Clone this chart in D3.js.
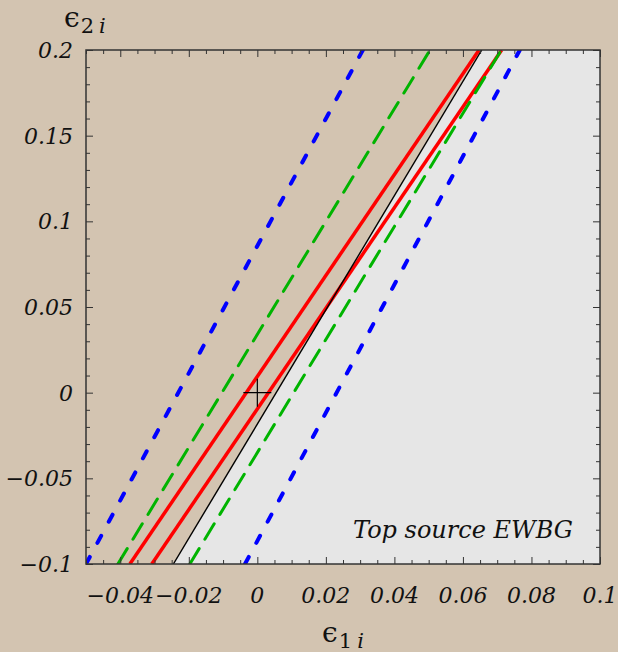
<!DOCTYPE html>
<html>
<head>
<meta charset="utf-8">
<script src="https://cdn.jsdelivr.net/npm/d3@7"></script>
<style>
  body { margin: 0; background: #d3c4b1; }
  svg { display: block; }
  .lbl { font-family: "DejaVu Serif", serif; font-style: italic; fill: #111; }
</style>
</head>
<body>
<div id="chart"></div>
<script>
// line endpoints: ε1 at ε2 = -0.1 (bottom) and ε2 = 0.2 (top)
const lineNames = ['blueL', 'greenL', 'redL', 'redR', 'black', 'greenR', 'blueR'];
const bottomE1 = [-0.0500, -0.0407, -0.0372, -0.0308, -0.0245, -0.0197, -0.0036];
const topE1 = [0.0308, 0.0504, 0.0647, 0.0713, 0.0655, 0.0712, 0.0766];
const e2Ends = [-0.1, 0.2];

const xTicks = [-0.04, -0.02, 0, 0.02, 0.04, 0.06, 0.08, 0.1];
const xTickLabels = ['\u22120.04', '\u22120.02', '0', '0.02', '0.04', '0.06', '0.08', '0.1'];
const yTicks = [-0.1, -0.05, 0, 0.05, 0.1, 0.15, 0.2];
const yTickLabels = ['\u22120.1', '\u22120.05', '0', '0.05', '0.1', '0.15', '0.2'];

const styles = {
  blueL: { stroke: '#0000ff', width: 4, dash: '8,16' },
  blueR: { stroke: '#0000ff', width: 4, dash: '8,16' },
  greenL: { stroke: '#00b400', width: 3, dash: '18,11' },
  greenR: { stroke: '#00b400', width: 3, dash: '18,11' },
  redL: { stroke: '#ff0000', width: 3.5, dash: null },
  redR: { stroke: '#ff0000', width: 3.5, dash: null },
  black: { stroke: '#000', width: 1.4, dash: null }
};

const width = 618, height = 652;
const plot = { left: 86, right: 600, top: 50, bottom: 564 };

const svg = d3.select('#chart').append('svg')
  .attr('width', width).attr('height', height);

const xScale = d3.scaleLinear().domain([-0.05, 0.1]).range([plot.left, plot.right]);
const yScale = d3.scaleLinear().domain([-0.1, 0.2]).range([plot.bottom, plot.top]);

svg.append('clipPath').attr('id', 'clip')
  .append('rect')
  .attr('x', plot.left).attr('y', plot.top)
  .attr('width', plot.right - plot.left).attr('height', plot.bottom - plot.top);

// grey region to the right of the black line
const bi = lineNames.indexOf('black');
const region = [[bottomE1[bi], -0.1], [topE1[bi], 0.2], [0.1, 0.2], [0.1, -0.1]];
svg.append('path')
  .attr('d', d3.line().x(d => xScale(d[0])).y(d => yScale(d[1]))(region) + 'Z')
  .attr('fill', '#e6e6e6');

const lines = lineNames.map((name, i) => ({
  name,
  pts: [[bottomE1[i], e2Ends[0]], [topE1[i], e2Ends[1]]]
}));

const g = svg.append('g').attr('clip-path', 'url(#clip)');
g.selectAll('path')
  .data(lines)
  .join('path')
  .attr('d', d => d3.line().x(p => xScale(p[0])).y(p => yScale(p[1]))(d.pts))
  .attr('fill', 'none')
  .attr('stroke', d => styles[d.name].stroke)
  .attr('stroke-width', d => styles[d.name].width)
  .attr('stroke-dasharray', d => styles[d.name].dash)
  .attr('stroke-linecap', d => styles[d.name].dash ? 'round' : 'butt');

// cross at the origin
const cx = xScale(0), cy = yScale(0);
svg.append('path')
  .attr('d', `M${cx - 14},${cy}H${cx + 14}M${cx},${cy - 14}V${cy + 14}`)
  .attr('stroke', '#000').attr('stroke-width', 1.2);

// frame with inward ticks on all sides
const xMinor = d3.range(-0.05, 0.1001, 0.005).filter(v => !xTicks.some(t => Math.abs(t - v) < 1e-9));
const yMinor = d3.range(-0.1, 0.2001, 0.01).filter(v => !yTicks.some(t => Math.abs(t - v) < 1e-9));

function addAxis(axisFn, scale, ticks, size, transform) {
  svg.append('g')
    .attr('transform', transform)
    .call(axisFn(scale).tickValues(ticks).tickSize(size).tickFormat(''))
    .call(a => a.select('.domain').remove())
    .selectAll('line').attr('stroke', '#333').attr('stroke-width', 1);
}
addAxis(d3.axisBottom, xScale, xTicks, -7, `translate(0,${plot.bottom})`);
addAxis(d3.axisBottom, xScale, xMinor, -4, `translate(0,${plot.bottom})`);
addAxis(d3.axisTop, xScale, xTicks, -7, `translate(0,${plot.top})`);
addAxis(d3.axisTop, xScale, xMinor, -4, `translate(0,${plot.top})`);
addAxis(d3.axisLeft, yScale, yTicks, -7, `translate(${plot.left},0)`);
addAxis(d3.axisLeft, yScale, yMinor, -4, `translate(${plot.left},0)`);
addAxis(d3.axisRight, yScale, yTicks, -7, `translate(${plot.right},0)`);
addAxis(d3.axisRight, yScale, yMinor, -4, `translate(${plot.right},0)`);

svg.append('rect')
  .attr('x', plot.left).attr('y', plot.top)
  .attr('width', plot.right - plot.left).attr('height', plot.bottom - plot.top)
  .attr('fill', 'none').attr('stroke', '#333').attr('stroke-width', 1.5);

// tick labels
svg.append('g').selectAll('text')
  .data(xTicks)
  .join('text')
  .attr('class', 'lbl')
  .attr('x', d => xScale(d))
  .attr('y', 603)
  .attr('text-anchor', 'middle')
  .attr('font-size', 22)
  .text((d, i) => xTickLabels[i]);

svg.append('g').selectAll('text')
  .data(yTicks)
  .join('text')
  .attr('class', 'lbl')
  .attr('x', 73)
  .attr('y', d => yScale(d) + 8)
  .attr('text-anchor', 'end')
  .attr('font-size', 22)
  .text((d, i) => yTickLabels[i]);

// axis titles
const t2 = svg.append('text').attr('x', 64).attr('y', 27)
  .attr('font-family', '"DejaVu Serif", serif').attr('fill', '#111');
t2.append('tspan').attr('font-size', 28).text('\u03f5');
t2.append('tspan').attr('font-size', 21).attr('dy', 6).attr('dx', 1).text('2');
t2.append('tspan').attr('font-size', 21).attr('font-style', 'italic').attr('dx', 5).text('i');

const t1 = svg.append('text').attr('x', 343).attr('y', 642)
  .attr('text-anchor', 'middle')
  .attr('font-family', '"DejaVu Serif", serif').attr('fill', '#111');
t1.append('tspan').attr('font-size', 28).text('\u03f5');
t1.append('tspan').attr('font-size', 21).attr('dy', 6).attr('dx', 1).text('1');
t1.append('tspan').attr('font-size', 21).attr('font-style', 'italic').attr('dx', 5).text('i');

svg.append('text')
  .attr('class', 'lbl')
  .attr('x', 573).attr('y', 538)
  .attr('text-anchor', 'end')
  .attr('font-size', 24)
  .text('Top source EWBG');
</script>
</body>
</html>
